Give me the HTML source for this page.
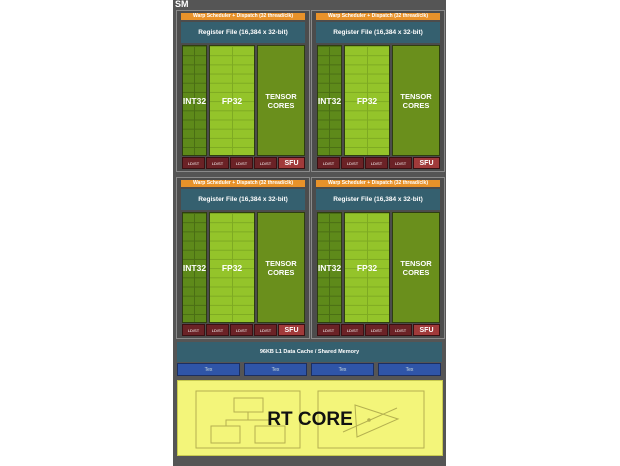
<!DOCTYPE html>
<html><head><style>
body{margin:0;width:620px;height:466px;background:#fff;position:relative;overflow:hidden;font-family:"Liberation Sans",sans-serif}
div{position:absolute;box-sizing:border-box}
.q{width:134px;height:162px;border:1px solid #8a8a8a;background:#4c4c4c}
.or{left:4px;top:2px;width:124px;height:7px;background:#e8922a;color:#fff;font-size:5px;line-height:7px;text-align:center;font-weight:bold}
.rg{left:4px;top:11px;width:124px;height:21px;background:#35606f;color:#fff;font-size:6.5px;line-height:21px;text-align:center;font-weight:bold}
.c{top:34px;height:111px;color:#fff;font-weight:bold;font-size:8.5px;display:flex;align-items:center;justify-content:center;text-align:center;border:1px solid #2e3e10}
.int{left:5px;width:25px;background:#5e8a1a;background-image:linear-gradient(#4a6e14 1px,transparent 1px),linear-gradient(90deg,transparent 11px,#4a6e14 11px,#4a6e14 12px,transparent 12px);background-size:100% 9.2px,100% 100%}
.fp{left:32px;width:46px;background:#94c42a;background-image:linear-gradient(#7eaa22 1px,transparent 1px),linear-gradient(90deg,transparent 22px,#7eaa22 22px,#7eaa22 23px,transparent 23px);background-size:100% 9.2px,100% 100%}
.tc{left:80px;width:48px;background:#6a8f1c;font-size:7.5px;line-height:9px}
.ls{top:146px;width:23px;height:12px;background:#6b2226;color:#fff;font-size:4px;line-height:12px;text-align:center;border:1px solid #3a1012}
.sfu{left:101px;width:27px;background:#a13a3a;font-size:7px;font-weight:bold}
.tex{top:363px;width:63px;height:13px;background:#2f55a8;color:#cdd;font-size:5px;line-height:13px;text-align:center;border:1px solid #1c2f60}
</style></head><body>
<div style="left:173px;top:0;width:273px;height:466px;background:#555"></div>
<div style="left:175px;top:0;color:#fff;font-size:9px;font-weight:bold;line-height:9px">SM</div>

<div class="q" style="left:176px;top:10px">
<div class="or">Warp Scheduler + Dispatch (32 thread/clk)</div><div class="rg">Register File (16,384 x 32-bit)</div>
<div class="c int">INT32</div><div class="c fp">FP32</div><div class="c tc">TENSOR<br>CORES</div>
<div class="ls" style="left:5px">LD/ST</div><div class="ls" style="left:29px">LD/ST</div><div class="ls" style="left:53px">LD/ST</div><div class="ls" style="left:77px">LD/ST</div><div class="ls sfu">SFU</div></div>
<div class="q" style="left:311px;top:10px">
<div class="or">Warp Scheduler + Dispatch (32 thread/clk)</div><div class="rg">Register File (16,384 x 32-bit)</div>
<div class="c int">INT32</div><div class="c fp">FP32</div><div class="c tc">TENSOR<br>CORES</div>
<div class="ls" style="left:5px">LD/ST</div><div class="ls" style="left:29px">LD/ST</div><div class="ls" style="left:53px">LD/ST</div><div class="ls" style="left:77px">LD/ST</div><div class="ls sfu">SFU</div></div>
<div class="q" style="left:176px;top:177px">
<div class="or">Warp Scheduler + Dispatch (32 thread/clk)</div><div class="rg">Register File (16,384 x 32-bit)</div>
<div class="c int">INT32</div><div class="c fp">FP32</div><div class="c tc">TENSOR<br>CORES</div>
<div class="ls" style="left:5px">LD/ST</div><div class="ls" style="left:29px">LD/ST</div><div class="ls" style="left:53px">LD/ST</div><div class="ls" style="left:77px">LD/ST</div><div class="ls sfu">SFU</div></div>
<div class="q" style="left:311px;top:177px">
<div class="or">Warp Scheduler + Dispatch (32 thread/clk)</div><div class="rg">Register File (16,384 x 32-bit)</div>
<div class="c int">INT32</div><div class="c fp">FP32</div><div class="c tc">TENSOR<br>CORES</div>
<div class="ls" style="left:5px">LD/ST</div><div class="ls" style="left:29px">LD/ST</div><div class="ls" style="left:53px">LD/ST</div><div class="ls" style="left:77px">LD/ST</div><div class="ls sfu">SFU</div></div>

<div style="left:177px;top:342px;width:265px;height:20px;background:#35606f;color:#fff;font-size:5.5px;line-height:20px;text-align:center;font-weight:bold">96KB L1 Data Cache / Shared Memory</div>
<div class="tex" style="left:177px">Tex</div><div class="tex" style="left:244px">Tex</div><div class="tex" style="left:311px">Tex</div><div class="tex" style="left:378px">Tex</div>

<div style="left:177px;top:380px;width:266px;height:76px;background:#f3f57a;border:1px solid #c8ca50"></div>
<svg style="position:absolute;left:0;top:0" width="620" height="466">
<g fill="none" stroke="#b4b050" stroke-width="1">
<rect x="196" y="391" width="104" height="57"/>
<rect x="318" y="391" width="106" height="57"/>
<rect x="234" y="398" width="29" height="14"/>
<line x1="248" y1="412" x2="248" y2="420"/>
<polyline points="226,426 226,420 270,420 270,426"/>
<rect x="211" y="426" width="29" height="17"/>
<rect x="255" y="426" width="30" height="17"/>
<polygon points="355,405 398,419 357,437"/>
<line x1="343" y1="432" x2="397" y2="408"/>
</g>
<circle cx="369" cy="420" r="1.8" fill="#b4b050"/>
<text x="310" y="425" font-family="Liberation Sans" font-weight="bold" font-size="19" text-anchor="middle" fill="#111">RT CORE</text>
</svg>
</body></html>
